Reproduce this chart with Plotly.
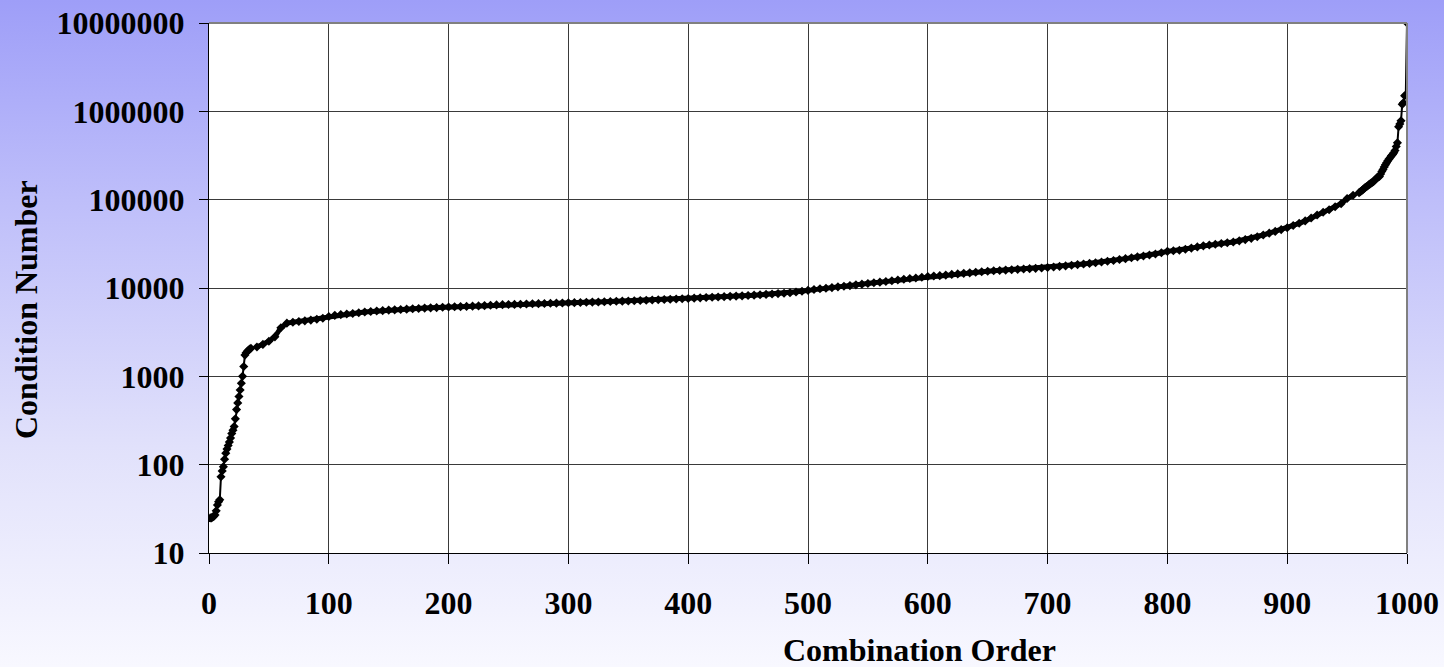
import base64
import plotly.graph_objects as go

# ---------------- data ----------------
x_head = list(range(1, 36))
y_head = [25, 25, 25.5, 26, 27, 30, 35, 38, 40, 73,
          85, 95, 115, 135, 150, 165, 180, 200, 225, 246,
          270, 330, 420, 500, 590, 700, 835, 1000, 1290, 1740,
          1850, 1920, 1980, 2030, 2080]

x_mid = list(range(40, 960, 5))
y_mid = [2150, 2300, 2500, 2800, 3550, 4000, 4100, 4180, 4250, 4330,
         4420, 4550, 4750, 4900, 5000, 5080, 5150, 5250, 5350, 5420,
         5480, 5550, 5620, 5660, 5700, 5760, 5820, 5870, 5920, 5960,
         6000, 6050, 6100, 6130, 6160, 6190, 6230, 6270, 6320, 6380,
         6440, 6480, 6500, 6520, 6550, 6580, 6620, 6650, 6680, 6710,
         6740, 6770, 6800, 6830, 6860, 6890, 6920, 6950, 6990, 7030,
         7070, 7100, 7130, 7170, 7220, 7270, 7320, 7370, 7420, 7460,
         7500, 7550, 7620, 7680, 7740, 7800, 7860, 7920, 7980, 8040,
         8100, 8150, 8220, 8300, 8380, 8460, 8550, 8640, 8730, 8850,
         9000, 9200, 9400, 9600, 9800, 9950, 10100, 10300, 10450, 10650,
         10850, 11050, 11250, 11450, 11650, 11850, 12100, 12300, 12550, 12800,
         13000, 13250, 13500, 13650, 13800, 14000, 14250, 14450, 14650, 14850,
         15100, 15300, 15500, 15650, 15800, 15950, 16100, 16250, 16400, 16550,
         16700, 16850, 17050, 17300, 17550, 17800, 18100, 18400, 18700, 19000,
         19300, 19700, 20100, 20500, 21000, 21500, 22000, 22500, 23000, 23600,
         24300, 25100, 26000, 26400, 26800, 27500, 28300, 29200, 30000, 30700,
         31300, 31900, 32500, 33200, 34200, 35300, 36500, 38000, 39800, 41800,
         43700, 45800, 48000, 51000, 54000, 57500, 62000, 67000, 72000, 77000,
         83000, 90000, 103000, 112000]

x_tail = list(range(960, 1001))
y_tail = [120000, 123000, 126000, 129000, 133000, 137000, 140000, 143000, 147000, 150000,
          154000, 157000, 160000, 166000, 172000, 177000, 180000, 183000, 195000, 208000,
          220000, 235000, 248000, 262000, 275000, 288000, 300000, 315000, 325000, 340000,
          360000, 400000, 440000, 670000, 720000, 780000, 1200000, 1250000, 1500000, 1530000,
          10000000]

y_tickvals = [10, 100, 1000, 10000, 100000, 1000000, 10000000]
y_ticktext = ["10", "100", "1000", "10000", "100000", "1000000", "10000000"]
x_tickvals = [0, 100, 200, 300, 400, 500, 600, 700, 800, 900, 1000]

x_all = x_head + x_mid + x_tail
y_all = y_head + y_mid + y_tail

# ---------------- layout geometry ----------------
W, H = 1444, 667
ML, MR, MT, MB = 209, 37, 23, 114
PW, PH = W - ML - MR, H - MT - MB

FONT = "Liberation Serif"
FS = 32

svg = f'''<svg xmlns="http://www.w3.org/2000/svg" width="{W}" height="{H}" viewBox="0 0 {W} {H}" preserveAspectRatio="none">
<defs><linearGradient id="g" x1="0" y1="0" x2="0" y2="1">
<stop offset="0" stop-color="rgb(158,158,248)"/>
<stop offset="0.3" stop-color="rgb(190,190,250)"/>
<stop offset="0.67" stop-color="rgb(225,225,251)"/>
<stop offset="1" stop-color="rgb(248,248,255)"/>
</linearGradient></defs>
<rect x="0" y="0" width="{W}" height="{H}" fill="url(#g)"/></svg>'''
bg_uri = "data:image/svg+xml;base64," + base64.b64encode(svg.encode()).decode()

fig = go.Figure()

# thick band for the dense middle part (markers overlap there)
fig.add_trace(go.Scatter(
    x=x_mid, y=y_mid, mode="lines",
    line=dict(color="black", width=5), hoverinfo="skip", showlegend=False))

fig.add_trace(go.Scatter(
    x=x_all, y=y_all, mode="lines+markers",
    line=dict(color="black", width=2),
    marker=dict(symbol="diamond", size=7, color="black"),
    showlegend=False))

fig.update_layout(
    width=W, height=H,
    margin=dict(l=ML, r=MR, t=MT, b=MB, autoexpand=False),
    paper_bgcolor="rgb(248,248,255)",
    plot_bgcolor="white",
    font=dict(family=FONT, size=FS, color="black"),
    showlegend=False,
    images=[dict(source=bg_uri, xref="paper", yref="paper",
                 x=-ML / PW, y=1 + MT / PH, sizex=W / PW, sizey=H / PH,
                 xanchor="left", yanchor="top", sizing="stretch", layer="below")],
    shapes=[
        dict(type="rect", xref="paper", yref="paper", x0=0, x1=1, y0=0, y1=1,
             fillcolor="white", line=dict(width=0), layer="below"),
        dict(type="line", xref="paper", yref="paper", x0=0, x1=1, y0=1, y1=1,
             line=dict(color="#808080", width=2), layer="above"),
        dict(type="line", xref="paper", yref="paper", x0=1, x1=1, y0=0, y1=1,
             line=dict(color="#808080", width=2), layer="above"),
    ],
    annotations=[
        dict(text="<b>Combination Order</b>", xref="paper", yref="paper",
             x=(919 - ML) / PW, y=(H - MB - 650) / PH, showarrow=False,
             xanchor="center", yanchor="middle", font=dict(size=FS, family=FONT)),
        dict(text="<b>Condition Number</b>", xref="paper", yref="paper",
             x=(26 - ML) / PW, y=(H - MB - 310) / PH, showarrow=False, textangle=-90,
             xanchor="center", yanchor="middle", font=dict(size=FS, family=FONT)),
    ],
)

fig.update_xaxes(
    range=[0, 1000], tickvals=x_tickvals,
    ticktext=[f"<b>{v}</b>" for v in x_tickvals],
    showgrid=True, gridcolor="#3a3a3a", gridwidth=1,
    showline=True, linecolor="black", linewidth=1,
    ticks="outside", ticklen=10, tickcolor="black", tickwidth=1,
    ticklabelstandoff=12, zeroline=False,
)
fig.update_yaxes(
    type="log", range=[1, 7], tickvals=y_tickvals,
    ticktext=[f"<b>{t}</b>" for t in y_ticktext],
    showgrid=True, gridcolor="#3a3a3a", gridwidth=1,
    showline=True, linecolor="black", linewidth=1,
    ticks="outside", ticklen=9, tickcolor="black", tickwidth=1,
    ticklabelstandoff=8, zeroline=False,
)

fig.write_html("out.html", config={"displayModeBar": False},
               post_script="document.body.style.margin='0';")
